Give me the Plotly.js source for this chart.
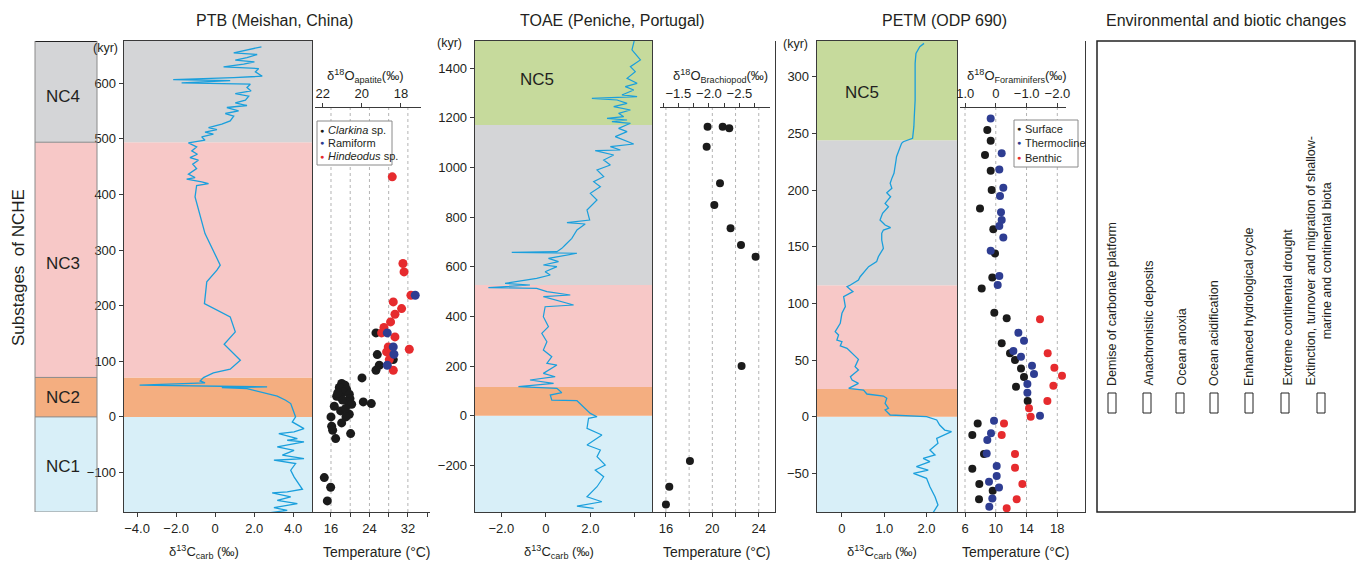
<!DOCTYPE html>
<html><head><meta charset="utf-8">
<script src="https://cdn.plot.ly/plotly-3.0.1.min.js"></script>
<style>html,body{margin:0;padding:0;background:#fff}#chart{width:1370px;height:564px}</style>
</head><body><div id="chart"></div>
<script>
// ---------------- DATA ----------------
// PTB (Meishan) carbonate carbon isotope curve
const ptbAge = [665.5,654.7,651.7,646.3,641.5,638.5,634.3,629.5,626.5,620.5,612.7,610.3,606.7,604.9,600.7,598.3,592.3,586.3,581.5,576.7,569.5,564.7,560.0,556.4,550.4,545.6,540.8,532.4,526.4,520.4,516.8,512.0,508.4,503.6,497.6,492.8,485.6,478.4,472.4,466.4,461.6,454.4,446.6,436.5,430.5,427.5,422.7,419.7,416.1,395.7,329.7,272.8,263.8,242.8,203.8,179.9,152.9,130.7,101.9,85.7,79.1,70.7,64.7,61.2,57.0,54.0,52.8,51.0,37.2,30.0,24.0,6.0,0,-9.0,-21.0,-27.0,-30.0,-39.0,-42.0,-45.0,-54.0,-60.0,-68.9,-74.9,-77.9,-83.9,-95.9,-107.9,-130.1,-134.9,-136.7,-143.9,-149.9,-155.9,-163.1,-167.9,-172.1];
const ptbD13C = [2.37,0.95,2.15,1.63,1.03,2.01,1.46,0.43,2.23,2.06,2.41,0.95,-2.15,0.77,-1.72,1.80,1.63,1.84,1.03,1.72,1.55,1.03,1.63,0.60,1.20,0.52,0.95,0.77,0.34,-0.34,0.09,-0.52,-0.09,-0.69,-0.52,-1.37,-0.95,-1.20,-0.91,-1.29,-0.86,-1.15,-0.95,-1.37,-1.03,-1.46,-0.69,-0.34,-0.95,-1.03,-0.52,0.26,0.09,-0.43,-0.55,0.77,1.03,0.46,1.29,0.77,-0.09,-0.60,-0.77,-0.52,-3.87,2.66,0.34,1.63,3.18,3.61,3.87,4.04,4.12,3.95,4.55,4.04,3.26,4.21,3.69,4.55,3.18,4.04,3.44,4.55,3.01,4.12,3.87,4.04,4.47,3.69,2.92,3.87,3.18,4.21,3.01,3.69,2.84];
// PTB conodont apatite temperatures (°C) vs age (kyr)
const clarkinaT   = [25.36,28.96,25.63,26.05,25.36,22.45,18.22,18.91,17.73,19.26,18.56,17.18,19.81,17.87,19.95,19.60,20.30,16.69,18.01,19.81,19.12,16.00,18.22,20.09,16.14,16.35,16.97,22.72,24.39,14.61,15.93,15.24,18.4,19.0,17.4];
const clarkinaAge = [151.1,103.1,112.1,92.9,83.9,70.1,60.0,57.0,52.8,49.2,45.0,37.2,40.8,36.0,33.0,27.0,22.8,19.2,10.8,4.8,0,0,-10.8,-30.0,-16.8,-24.0,-39.0,27.0,24.0,-109.1,-126.5,-151.1,30.5,15.0,43.0];
const ramiformT   = [33.53,27.71,28.96,29.10,27.71];
const ramiformAge = [218.8,151.1,125.9,112.7,92.9];
const hindeodusT   = [28.75,30.97,31.20,32.63,28.96,30.69,29.31,28.40,27.02,26.53,29.31,27.92,32.29,27.57,28.13,28.96];
const hindeodusAge = [431.7,275.9,260.8,218.8,206.8,194.8,184.7,170.9,160.7,151.1,143.9,125.9,121.7,116.9,103.1,83.9];
const ptbStageEdges = [0, 71, 494];            // NC1|NC2, NC2|NC3, NC3|NC4 (kyr)
const ptbStageNames = ['NC1','NC2','NC3','NC4'];

// TOAE (Peniche) carbon isotope curve
const toaeAge = [1514.2,1473.9,1433.6,1406.7,1386.5,1359.7,1339.5,1326.1,1312.6,1292.5,1285.8,1279.1,1272.3,1258.9,1245.5,1232.0,1218.6,1205.2,1198.4,1191.7,1185.0,1178.3,1158.1,1144.7,1124.5,1095.0,1084.2,1070.8,1068.1,1050.6,1030.5,1010.3,990.2,963.3,943.2,923.0,896.1,869.3,829.0,788.7,777.9,772.5,748.4,714.8,687.9,674.5,661.0,658.3,654.6,634.1,620.7,607.3,600.6,580.4,567.0,553.5,533.4,526.7,515.9,513.2,499.8,486.4,479.6,446.1,439.3,399.0,358.7,331.9,298.3,264.7,237.8,210.9,204.2,170.6,157.2,143.8,130.3,116.9,110.2,92.7,83.3,63.1,60.5,36.3,9.4,-4.0,-10.7,-51.1,-78.0,-118.2,-138.4,-165.3,-198.8,-219.0,-245.9,-286.2,-326.5,-346.6,-364.1,-373.5];
const toaeD13C = [3.98,3.87,4.25,3.80,4.02,3.65,4.10,3.57,3.95,3.42,4.10,2.07,3.20,3.65,3.05,3.80,3.27,3.50,2.75,3.65,2.97,3.80,3.27,3.65,3.12,3.95,2.90,3.35,2.22,3.05,2.60,2.90,2.30,2.60,2.15,2.45,2.00,2.30,1.85,1.97,0.95,1.77,1.40,1.17,0.87,0.72,0.50,-1.53,1.40,0.12,0.57,-0.11,0.50,-0.03,0.20,-0.41,-1.83,-0.71,-2.58,-0.41,0.05,1.10,-0.11,1.25,-0.03,-0.11,0.12,-0.18,0.05,-0.11,0.27,0.05,0.50,-0.11,0.42,-0.71,0.35,-1.23,0.50,0.72,0.20,0.27,1.40,1.70,2.00,2.30,1.92,1.85,2.52,1.85,2.45,2.30,2.67,2.22,2.60,2.30,1.85,2.52,1.40,2.15];
const brachT   = [19.59,20.89,21.46,19.51,20.66,20.17,21.57,22.47,23.73,22.52,18.07,16.29,16.00];
const brachAge = [1164.8,1164.8,1158.1,1084.2,936.4,849.1,755.1,687.9,640.9,200.2,-182.7,-286.2,-357.4];
const toaeStageEdges = [0, 116, 527, 1172];
const toaeStageNames = ['NC1','NC2','NC3','NC4','NC5'];

// PETM (ODP 690) carbon isotope curve
const petmAge = [329.4,326.5,320.6,311.8,294.1,279.4,264.7,255.9,245.6,242.6,241.2,236.8,229.4,226.5,220.6,214.7,210.3,205.9,201.5,197.6,194.1,188.2,185.3,179.4,173.5,169.1,166.8,164.7,161.8,155.9,148.5,144.1,141.2,136.8,132.4,123.5,120.6,116.2,114.7,110.3,105.9,97.1,91.2,82.4,75.0,72.1,67.6,66.2,62.4,60.3,55.9,50.6,44.1,41.2,35.3,32.4,29.4,25.0,23.5,20.0,18.2,16.2,11.8,7.4,5.9,1.5,0,-2.9,-7.4,-11.8,-13.2,-19.1,-23.5,-29.4,-33.8,-36.8,-39.7,-44.1,-47.1,-50.0,-54.4,-61.8,-70.6,-77.9,-84.4];
const petmD13C = [1.94,1.84,1.75,1.73,1.73,1.73,1.71,1.70,1.67,1.45,1.41,1.36,1.29,1.28,1.25,1.23,1.18,1.14,1.18,1.06,1.15,1.02,1.10,0.96,0.90,1.02,1.15,0.98,0.94,0.94,0.98,0.90,0.86,0.82,0.63,0.43,0.39,0.20,0.12,0.26,0.04,0.08,0,-0.04,-0.16,-0.08,-0.12,0,-0.04,0.12,0.24,0.39,0.31,0.39,0.20,0.24,0.39,0.16,0.51,0.59,0.98,1.06,1.02,1.10,1.02,1.14,2.0,2.24,2.31,2.43,2.59,2.24,2.27,2.08,2.20,1.92,2.08,1.76,2.04,1.69,2.0,2.08,2.20,2.27,2.16];
const surfaceT   = [8.90,9.34,8.60,9.34,9.47,7.95,9.68,9.90,9.55,8.17,9.81,11.42,10.77,11.85,12.50,13.28,13.67,12.63,14.15,7.65,6.95,8.47,6.95,7.86,9.60,7.82];
const surfaceAge = [252.9,243.5,230.9,217.1,200.0,183.8,165.3,144.1,122.9,113.2,91.8,86.8,64.7,55.9,50.0,42.6,35.0,26.5,13.8,-5.9,-16.2,-32.9,-45.9,-59.4,-65.3,-72.9];
const thermoT   = [9.34,10.77,10.46,10.98,10.55,10.68,10.77,10.46,10.98,9.34,10.46,10.25,12.94,13.67,12.29,13.28,14.71,14.97,14.11,14.11,15.75,9.77,9.38,8.90,8.82,10.12,10.12,9.12,10.42,9.55,9.16];
const thermoAge = [263.2,232.4,218.2,202.1,194.7,180.3,173.5,168.2,158.2,146.5,124.1,116.2,74.1,67.1,57.9,52.9,45.0,37.6,28.8,21.2,0.9,-3.5,-14.7,-20.6,-32.4,-43.5,-52.4,-57.4,-62.4,-72.1,-79.4];
const benthicT   = [15.75,16.75,17.62,18.61,17.49,16.71,14.32,14.54,11.07,10.77,12.50,12.50,13.46,12.72,11.42];
const benthicAge = [85.9,55.9,43.2,36.2,27.4,13.8,7.4,0,-5.9,-16.2,-32.9,-45.0,-59.4,-72.9,-80.9];
const petmStageEdges = [0, 24.4, 116, 244];
const petmStageNames = ['NC1','NC2','NC3','NC4','NC5'];

// Tick labels
const ptbAgeTicks = [-100,0,100,200,300,400,500,600];
const toaeAgeTicks = [-200,0,200,400,600,800,1000,1200,1400];
const petmAgeTicks = [-50,0,50,100,150,200,250,300];
const envLabels = ['Demise of carbonate platform','Anachronistic deposits','Ocean anoxia','Ocean acidification','Enhanced hydrological cycle','Extreme continental drought','Extinction, turnover and migration of shallow-<br>marine and continental biota'];

// ---------------- LAYOUT HELPERS ----------------
const W = 1370, H = 564;
const px = v => v / W;
const py = v => 1 - v / H;
const FONT = 'Liberation Sans, Arial, sans-serif';
const TXT = '#231f20';
const minus = v => String(v).replace('-', '\u2212');
const stageColor = {NC1:'#d8eff8', NC2:'#f4ae80', NC3:'#f7c8c7', NC4:'#d4d5d7', NC5:'#c6da9c'};
const LINE = '#1a9fdc';

const yDom = [py(512), py(41)];
const ptbRange = [-171, 676], toaeRange = [-388, 1510], petmRange = [-84.1, 331.5];

const axBase = {showline:true, linecolor:'#3a3a3a', linewidth:1.3, ticks:'outside', ticklen:4, tickwidth:1, tickcolor:'#3a3a3a',
  tickfont:{size:13, color:TXT, family:FONT}, showgrid:false, zeroline:false, fixedrange:true};
function ax(o){ return Object.assign({}, axBase, o); }
function fmt1(v){ return v === 0 ? '0' : minus(v.toFixed(1)); }
function minor(vals){ return {tickmode:'array', tickvals:vals, ticks:'outside', ticklen:4, tickcolor:'#3a3a3a', tickwidth:1, showgrid:false}; }

// ---------------- TRACES ----------------
const traces = [];
traces.push({x:ptbD13C, y:ptbAge, xaxis:'x', yaxis:'y', mode:'lines', line:{color:LINE, width:1.3}, hoverinfo:'skip'});
function pts(x, y, xa, ya, color, size){ return {x, y, xaxis:xa, yaxis:ya, mode:'markers', marker:{color, size, line:{width:0}}, hoverinfo:'skip', cliponaxis:false}; }
traces.push(pts(clarkinaT, clarkinaAge, 'x2','y2','#1b1b1b',9));
traces.push(pts(hindeodusT, hindeodusAge, 'x2','y2','#e62b2e',9));
traces.push(pts(ramiformT, ramiformAge, 'x2','y2','#2e3d92',9));
traces.push({x:[], y:[], xaxis:'x3', yaxis:'y2', mode:'markers', hoverinfo:'skip'});

traces.push({x:toaeD13C, y:toaeAge, xaxis:'x4', yaxis:'y3', mode:'lines', line:{color:LINE, width:1.2}, hoverinfo:'skip'});
traces.push(pts(brachT, brachAge, 'x5','y4','#1b1b1b',8));
traces.push({x:[], y:[], xaxis:'x6', yaxis:'y4', mode:'markers', hoverinfo:'skip'});

traces.push({x:petmD13C, y:petmAge, xaxis:'x7', yaxis:'y5', mode:'lines', line:{color:LINE, width:1.3}, hoverinfo:'skip'});
traces.push(pts(surfaceT, surfaceAge, 'x8','y6','#1b1b1b',8));
traces.push(pts(thermoT, thermoAge, 'x8','y6','#2e3d92',8));
traces.push(pts(benthicT, benthicAge, 'x8','y6','#e62b2e',8));
traces.push({x:[], y:[], xaxis:'x9', yaxis:'y6', mode:'markers', hoverinfo:'skip'});

// ---------------- AXES ----------------
const hiddenY = (range, anchor, border) => ax({domain:yDom, range, anchor, side:'right', ticks:'', showticklabels:false, tickvals:[], showline:border});
const layout = {
  width:W, height:H, margin:{l:0,r:0,t:0,b:0}, paper_bgcolor:'#fff', plot_bgcolor:'rgba(0,0,0,0)',
  showlegend:false, font:{family:FONT, color:TXT},
  // PTB
  xaxis: ax({domain:[px(124),px(312)], range:[-4.67,4.96], anchor:'y', mirror:true, tickvals:[-4,-2,0,2,4], ticktext:[-4,-2,0,2,4].map(fmt1)}),
  yaxis: ax({domain:yDom, range:ptbRange, anchor:'x', mirror:true, tickvals:ptbAgeTicks, ticktext:ptbAgeTicks.map(minus)}),
  xaxis2: ax({domain:[px(312),px(430)], range:[12.05,36.6], anchor:'y2', tickvals:[16,24,32], ticktext:['16','24','32'], minor:minor([20,28,36])}),
  yaxis2: hiddenY(ptbRange, 'x2', false),
  xaxis3: ax({domain:[px(315),px(421)], range:[22.4,16.97], anchor:'free', position:py(107), side:'top', tickvals:[22,20,18], ticktext:['22','20','18']}),
  // TOAE
  xaxis4: ax({domain:[px(475),px(652)], range:[-3.18,4.77], anchor:'y3', mirror:true, tickvals:[-2,0,2], ticktext:['\u22122.0','0','2.0'], minor:minor([4])}),
  yaxis3: ax({domain:yDom, range:toaeRange, anchor:'x4', mirror:true, tickvals:toaeAgeTicks, ticktext:toaeAgeTicks.map(minus)}),
  xaxis5: ax({domain:[px(652),px(775)], range:[14.8,25.4], anchor:'y4', tickvals:[16,20,24], ticktext:['16','20','24'], minor:minor([18,22])}),
  yaxis4: hiddenY(toaeRange, 'x5', true),
  xaxis6: ax({domain:[px(660),px(770)], range:[-1.2,-3.0], anchor:'free', position:py(107), side:'top', tickvals:[-1.5,-2,-2.5], ticktext:['\u22121.5','\u22122.0','\u22122.5'], minor:minor([-1.25,-1.75,-2.25,-2.75])}),
  // PETM
  xaxis7: ax({domain:[px(817),px(957)], range:[-0.59,2.72], anchor:'y5', mirror:true, tickvals:[0,1,2], ticktext:['0','1.0','2.0']}),
  yaxis5: ax({domain:yDom, range:petmRange, anchor:'x7', mirror:true, tickvals:petmAgeTicks, ticktext:petmAgeTicks.map(minus)}),
  xaxis8: ax({domain:[px(957),px(1085)], range:[4.96,21.6], anchor:'y6', tickvals:[6,10,14,18], ticktext:['6','10','14','18']}),
  yaxis6: hiddenY(petmRange, 'x8', true),
  xaxis9: ax({domain:[px(960),px(1066)], range:[1.17,-2.28], anchor:'free', position:py(107), side:'top', tickvals:[1,0,-1,-2], ticktext:['1.0','0','\u22121.0','\u22122.0']}),
  shapes:[], annotations:[]
};

// ---------------- BANDS (substages) ----------------
function bands(edges, names, range, xref, yref, xr){
  const b = [range[0]].concat(edges, [range[1]]);
  names.forEach((n,i)=>{
    layout.shapes.push({type:'rect', layer:'below', xref, yref, x0:xr[0], x1:xr[1], y0:b[i], y1:b[i+1], fillcolor:stageColor[n], line:{width:0}});
  });
}
bands(ptbStageEdges, ptbStageNames, ptbRange, 'x domain', 'y', [0,1]);
bands(toaeStageEdges, toaeStageNames, toaeRange, 'x4 domain', 'y3', [0,1]);
bands(petmStageEdges, petmStageNames, petmRange, 'x7 domain', 'y5', [0,1]);
// left substage column (same age scale as PTB)
bands(ptbStageEdges, ptbStageNames, ptbRange, 'paper', 'y', [px(35),px(97)]);
function ann(text, x, y, size, extra){ layout.annotations.push(Object.assign({text, xref:'paper', yref:'paper', x:px(x), y:py(y), xanchor:'center', yanchor:'middle', showarrow:false, font:{size, color:TXT}}, extra||{})); }
{
  const b = [ptbRange[0]].concat(ptbStageEdges, [ptbRange[1]]);
  b.forEach((v,i)=>{
    layout.shapes.push({type:'line', xref:'paper', yref:'y', x0:px(35), x1:px(97), y0:v, y1:v, line:{color: i===b.length-1 ? '#222':'#8a8a8a', width: i===b.length-1 ? 2 : 1}});
  });
  layout.shapes.push({type:'line', xref:'paper', yref:'y', x0:px(35), x1:px(35), y0:b[0], y1:b[b.length-1], line:{color:'#8a8a8a', width:1}});
  layout.shapes.push({type:'line', xref:'paper', yref:'y', x0:px(97), x1:px(97), y0:b[0], y1:b[b.length-1], line:{color:'#8a8a8a', width:1}});
  const labY = [466.7, 397, 263, 96.7];
  ptbStageNames.forEach((n,i)=> ann(n, 63, labY[i], 17));
}
ann('NC5', 537, 79, 17);
ann('NC5', 862, 92, 17);
ann('Substages  of NCHE', 18, 268, 17, {textangle:-90});

// ---------------- GRID LINES in temperature panels ----------------
function grid(vals, xref){
  vals.forEach(v=>layout.shapes.push({type:'line', layer:'below', xref, yref:'paper', x0:v, x1:v, y0:py(512), y1:py(107), line:{color:'#b4b4b4', width:1, dash:'dot'}}));
}
grid([16,20,24,28,32], 'x2');
grid([16,18,20,22,24], 'x5');
grid([6,10,14,18], 'x8');

// ---------------- TITLES ----------------
ann('PTB (Meishan, China)', 274, 20, 16);
ann('TOAE (Peniche, Portugal)', 612, 20, 16);
ann('PETM (ODP 690)', 944, 20, 16);
ann('Environmental and biotic changes', 1226, 20, 16);
ann('(kyr)', 105, 48, 12.5);
ann('(kyr)', 449, 43, 12.5);
ann('(kyr)', 795, 44, 12.5);
const d13c = 'δ<sup>13</sup>C<sub>carb</sub> (‰)';
ann(d13c, 204, 552, 13);
ann(d13c, 559, 552, 13);
ann(d13c, 882, 552, 13);
ann('Temperature (°C)', 377, 552, 14);
ann('Temperature (°C)', 717, 552, 14);
ann('Temperature (°C)', 1016, 552, 14);
ann('δ<sup>18</sup>O<sub>apatite</sub>(‰)', 365, 76, 13);
ann('δ<sup>18</sup>O<sub>Brachiopod</sub>(‰)', 720, 76, 13);
ann('δ<sup>18</sup>O<sub>Foraminifers</sub>(‰)', 1017, 76, 13);

// ---------------- MANUAL LEGENDS ----------------
function legend(box, items){
  layout.shapes.push({type:'rect', xref:'paper', yref:'paper', x0:px(box[0]), x1:px(box[1]), y0:py(box[3]), y1:py(box[2]), fillcolor:'#fff', line:{color:'#8a8a8a', width:1}});
  items.forEach(it=>{
    ann('●', box[0]+4.5, it.y, 7, {font:{size:7, color:it.c}});
    ann(it.t, box[0]+9, it.y, 11, {xanchor:'left'});
  });
}
legend([317,392,121,165], [{t:'<i>Clarkina</i> sp.', c:'#1b1b1b', y:130},{t:'Ramiform', c:'#2e3d92', y:143},{t:'<i>Hindeodus</i> sp.', c:'#e62b2e', y:156}]);
legend([1014,1078,120,167], [{t:'Surface', c:'#1b1b1b', y:128.5},{t:'Thermocline', c:'#2e3d92', y:143},{t:'Benthic', c:'#e62b2e', y:157.5}]);

// ---------------- ENVIRONMENTAL PANEL ----------------
layout.shapes.push({type:'rect', xref:'paper', yref:'paper', x0:px(1097), x1:px(1355), y0:py(512), y1:py(41), line:{color:'#222', width:1.5}, fillcolor:'rgba(0,0,0,0)'});
const envX = [1112,1148,1181,1214,1249,1287,1318];
const boxX = [1112,1147,1180,1214,1249,1285,1321];
envLabels.forEach((t,i)=>{
  ann(t, envX[i], 388, 12.5, {yanchor:'bottom', textangle:-90});
  layout.shapes.push({type:'rect', xref:'paper', yref:'paper', x0:px(boxX[i]-4), x1:px(boxX[i]+4), y0:py(413), y1:py(393), line:{color:'#222', width:1}, fillcolor:'#fff'});
});

Plotly.newPlot('chart', traces, layout, {staticPlot:true, displayModeBar:false});
</script></body></html>
